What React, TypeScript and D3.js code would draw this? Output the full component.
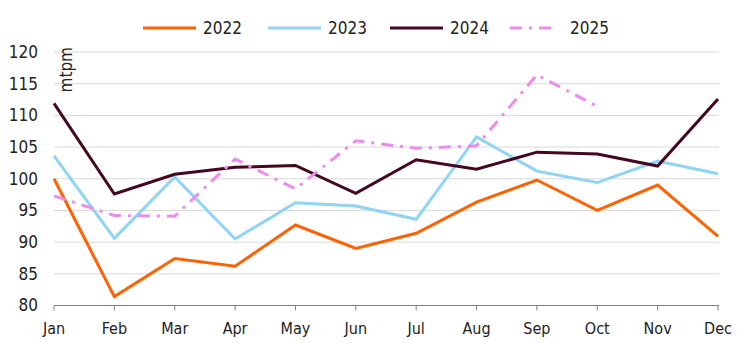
import React from "react";
import * as d3 from "d3";

const months = ["Jan","Feb","Mar","Apr","May","Jun","Jul","Aug","Sep","Oct","Nov","Dec"];
const yTicks = [80,85,90,95,100,105,110,115,120];
const v2022 = [100.0,81.4,87.4,86.2,92.7,89.0,91.4,96.3,99.8,95.0,99.0,90.9];
const v2023 = [103.6,90.6,100.3,90.5,96.2,95.7,93.6,106.6,101.2,99.4,102.8,100.8];
const v2024 = [111.9,97.6,100.7,101.8,102.1,97.7,103.0,101.5,104.2,103.9,102.0,112.6];
const v2025 = [97.3,94.2,94.1,103.1,98.4,106.0,104.8,105.2,116.4,111.4];

const series = [
  { name: "2022", values: v2022, color: "#FF6200", dash: "" },
  { name: "2023", values: v2023, color: "#8FD3F5", dash: "" },
  { name: "2024", values: v2024, color: "#45061F", dash: "" },
  { name: "2025", values: v2025, color: "#EE8CEE", dash: "12,7,3,7" },
];

const font = "'DejaVu Sans Condensed', 'Liberation Sans Narrow', 'DejaVu Sans', sans-serif";

export default function App() {
  const W = 746, H = 343;
  const x = d3.scalePoint<string>().domain(months).range([54, 718]);
  const y = d3.scaleLinear().domain([80, 120]).range([305.5, 52]);
  const line = d3.line<number>().x((_, i) => x(months[i])!).y(d => y(d));
  const legendX = [143, 268, 390, 510];
  return (
    <svg width={W} height={H} style={{ position: "absolute", left: 0, top: 0 }}>
      <rect width={W} height={H} fill="#fff" />
      {yTicks.filter(t => t > 80).map(t => (
        <line key={t} x1={54} x2={719} y1={y(t)} y2={y(t)} stroke="#d9d9d9" strokeWidth={1} />
      ))}
      <line x1={54} x2={719} y1={y(80)} y2={y(80)} stroke="#808080" strokeWidth={1} />
      {months.map(m => (
        <line key={m} x1={x(m)} x2={x(m)} y1={y(80)} y2={y(80) + 5} stroke="#808080" strokeWidth={1} />
      ))}
      {yTicks.map(t => (
        <text key={t} x={38} y={y(t)} dy="0.35em" textAnchor="end" fontFamily={font} fontSize={17} fill="#222">{t}</text>
      ))}
      {months.map(m => (
        <text key={m} x={x(m)} y={334} textAnchor="middle" fontFamily={font} fontSize={16} fill="#222">{m}</text>
      ))}
      <text transform={`translate(72,47) rotate(-90)`} textAnchor="end" fontFamily={font} fontSize={17} fill="#222">mtpm</text>
      {series.map(s => (
        <path key={s.name} d={line(s.values)!} fill="none" stroke={s.color} strokeWidth={3}
          strokeDasharray={s.dash || undefined} strokeLinejoin="miter" />
      ))}
      {series.map((s, i) => (
        <g key={s.name}>
          <line x1={legendX[i]} x2={legendX[i] + (s.dash ? 47 : 53)} y1={28} y2={28} stroke={s.color} strokeWidth={3} strokeDasharray={s.dash || undefined} />
          <text x={legendX[i] + 60} y={28} dy="0.35em" fontFamily={font} fontSize={17} fill="#222">{s.name}</text>
        </g>
      ))}
    </svg>
  );
}
